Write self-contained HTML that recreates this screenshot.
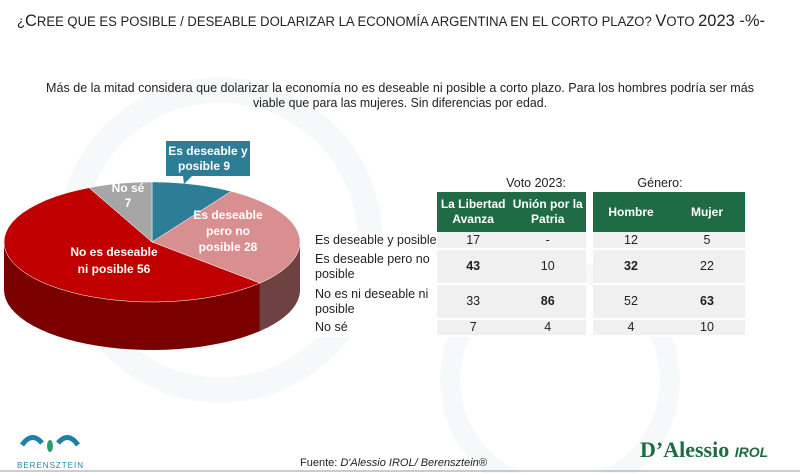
<!DOCTYPE html>
<html><head><meta charset="utf-8"><style>
html,body{margin:0;padding:0;background:#fff;}
body{width:800px;height:473px;position:relative;overflow:hidden;font-family:"Liberation Sans",sans-serif;}
svg text{font-family:"Liberation Sans",sans-serif;}
table{position:absolute;border-collapse:collapse;font-size:12.5px;color:#222;}
td,th{padding:0;text-align:center;}
th{background:#1e6b46;color:#fff;font-weight:bold;font-size:12px;line-height:15px;}
td{background:#f0f0f0;border-bottom:2px solid #fff;line-height:15px;}
td.l{text-align:left;padding-left:2px;background:#fff;}
.b{font-weight:bold;}
</style></head><body>
<svg width="800" height="473" style="position:absolute;left:0;top:0">
 <circle cx="220" cy="240" r="150" fill="none" stroke="#f5f9fa" stroke-width="25"/>
 <circle cx="560" cy="380" r="110" fill="none" stroke="#f6f9fa" stroke-width="20"/>
 <text x="17" y="26" textLength="748" lengthAdjust="spacingAndGlyphs" font-size="13.5" fill="#222">¿<tspan font-size="17">C</tspan>REE QUE ES POSIBLE / DESEABLE DOLARIZAR LA ECONOMÍA ARGENTINA EN EL CORTO PLAZO? <tspan font-size="17">V</tspan>OTO <tspan font-size="17">2023 -%-</tspan></text>
 <text x="400" y="92" text-anchor="middle" textLength="708" lengthAdjust="spacingAndGlyphs" font-size="12.5" fill="#222">Más de la mitad considera que dolarizar la economía no es deseable ni posible a corto plazo. Para los hombres podría ser más</text>
 <text x="400" y="107" text-anchor="middle" textLength="294" lengthAdjust="spacingAndGlyphs" font-size="12.5" fill="#222">viable que para las mujeres. Sin diferencias por edad.</text>
 <g id="pie"></g>
 <path d="M166 141 h84 v35 h-58 l-8 8 l-1 -8 h-17z" fill="#2e7d96"/>
 <text font-size="12" font-weight="bold" fill="#fff" text-anchor="middle"><tspan x="208" y="155">Es deseable y</tspan><tspan x="204" y="170">posible 9</tspan></text>
 <text font-size="12" font-weight="bold" fill="#fff" text-anchor="middle"><tspan x="128" y="192">No sé</tspan><tspan x="128" y="207">7</tspan></text>
 <text font-size="12" font-weight="bold" fill="#fff" text-anchor="middle"><tspan x="228" y="219">Es deseable</tspan><tspan x="228" y="235">pero no</tspan><tspan x="228" y="251">posible 28</tspan></text>
 <text font-size="12" font-weight="bold" fill="#fff" text-anchor="middle"><tspan x="114" y="256">No es deseable</tspan><tspan x="114" y="273">ni posible 56</tspan></text>
 <text x="536" y="187" font-size="12.5" fill="#222" text-anchor="middle">Voto 2023:</text>
 <text x="660" y="187" font-size="12.5" fill="#222" text-anchor="middle">Género:</text>
 <g>
  <path d="M22 445 q10 -14 20 -2 M58 443 q10 -12 20 2" stroke="#1f7fa8" stroke-width="5" fill="none"/>
  <ellipse cx="50" cy="446" rx="3" ry="6" fill="#2a9d6a"/>
  <text x="17" y="468" font-size="8" fill="#2a86a8" letter-spacing="1">BERENSZTEIN</text>
 </g>
 <text x="300" y="466" font-size="11" fill="#222">Fuente: <tspan font-style="italic">D'Alessio IROL/ Berensztein®</tspan></text>
 <text x="640" y="457" font-size="22" font-weight="bold" fill="#1e6b46" style="font-family:'Liberation Serif',serif">D’Alessio <tspan font-size="14" font-style="italic" style="font-family:'Liberation Sans',sans-serif">IROL</tspan></text>
 <line x1="0" y1="471" x2="800" y2="471" stroke="#999"/>
</svg>

<table style="left:313px;top:192px;width:273px">
 <tr style="height:40px"><th style="background:none;width:123px"></th><th style="width:72px">La Libertad<br>Avanza</th><th style="width:76px">Unión por la<br>Patria</th></tr>
 <tr style="height:17px"><td class="l">Es deseable y posible</td><td>17</td><td>-</td></tr>
 <tr style="height:35px"><td class="l">Es deseable pero no<br>posible</td><td class="b">43</td><td>10</td></tr>
 <tr style="height:35px"><td class="l">No es ni deseable ni<br>posible</td><td>33</td><td class="b">86</td></tr>
 <tr style="height:17px"><td class="l">No sé</td><td>7</td><td>4</td></tr>
</table>
<table style="left:593px;top:192px;width:152px">
 <tr style="height:40px"><th style="width:76px">Hombre</th><th style="width:76px">Mujer</th></tr>
 <tr style="height:17px"><td>12</td><td>5</td></tr>
 <tr style="height:35px"><td class="b">32</td><td>22</td></tr>
 <tr style="height:35px"><td>52</td><td class="b">63</td></tr>
 <tr style="height:17px"><td>4</td><td>10</td></tr>
</table>

<script>
const categories = ["Es deseable y posible","Es deseable pero no posible","No es deseable ni posible","No sé"];
const values = [9, 28, 56, 7];
const topColors = ["#2e7d96","#d98f8f","#c00000","#a6a6a6"];
const sideColors = ["#1d5567","#6e4242","#7a0000","#666"];
const cx=152, cy=242, rx=148, ry=60, depth=48;
const g=document.getElementById('pie');
const NS='http://www.w3.org/2000/svg';
const total=values.reduce((a,b)=>a+b,0);
function pt(a,dy){return [cx+rx*Math.cos(a), cy+ry*Math.sin(a)+(dy||0)];}
let a0=-Math.PI/2; const angles=[];
values.forEach(v=>{const a1=a0+v/total*2*Math.PI; angles.push([a0,a1]); a0=a1;});
angles.forEach(([s,e],i)=>{
  let lo=Math.max(s,0), hi=Math.min(e,Math.PI);
  if(e>2*Math.PI){ lo=Math.max(s-2*Math.PI,0); hi=Math.min(e-2*Math.PI,Math.PI); }
  if(hi<=lo) return;
  const N=30; let d='';
  for(let k=0;k<=N;k++){const p=pt(lo+(hi-lo)*k/N);d+=(k?'L':'M')+p[0].toFixed(1)+' '+p[1].toFixed(1);}
  for(let k=N;k>=0;k--){const p=pt(lo+(hi-lo)*k/N,depth);d+='L'+p[0].toFixed(1)+' '+p[1].toFixed(1);}
  const path=document.createElementNS(NS,'path');
  path.setAttribute('d',d+'Z');path.setAttribute('fill',sideColors[i]);
  
  
  g.appendChild(path);
});
angles.forEach(([s,e],i)=>{
  const N=40; let d='M'+cx+' '+cy;
  for(let k=0;k<=N;k++){const p=pt(s+(e-s)*k/N);d+='L'+p[0].toFixed(1)+' '+p[1].toFixed(1);}
  const path=document.createElementNS(NS,'path');
  path.setAttribute('d',d+'Z');path.setAttribute('fill',topColors[i]);
  path.setAttribute('stroke','#fff');path.setAttribute('stroke-width','0.5');
  
  
  g.appendChild(path);
});
</script>
</body></html>
